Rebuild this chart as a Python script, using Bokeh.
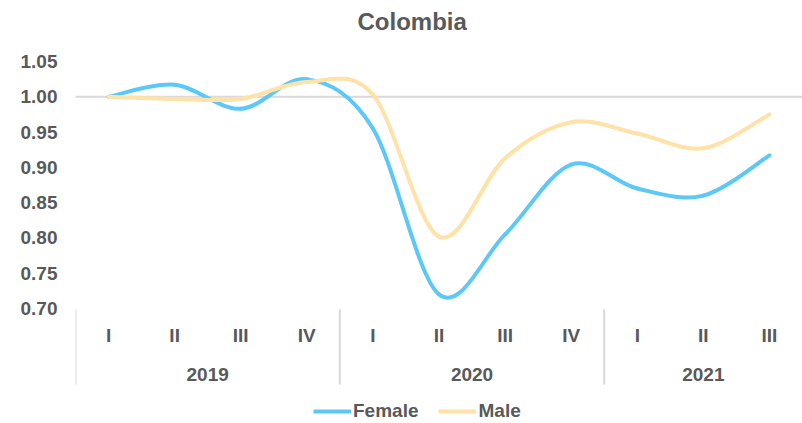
from bokeh.plotting import figure
from bokeh.models import (FactorRange, Range1d, ColumnDataSource, Span, Title,
                          NumeralTickFormatter, Legend, LegendItem)
from bokeh.core.properties import value
from bokeh.embed import file_html
from bokeh.resources import INLINE

years = ["2019", "2019", "2019", "2019", "2020", "2020", "2020", "2020", "2021", "2021", "2021"]
quarters = ["I", "II", "III", "IV", "I", "II", "III", "IV", "I", "II", "III"]
female = [1.000, 1.017, 0.983, 1.025, 0.955, 0.720, 0.805, 0.904, 0.870, 0.860, 0.917]
male = [1.000, 0.997, 0.997, 1.021, 1.003, 0.802, 0.913, 0.964, 0.948, 0.927, 0.975]
y_ticks = [0.70, 0.75, 0.80, 0.85, 0.90, 0.95, 1.00, 1.05]

BLUE = "#5CC8F8"
TAN = "#FFE2A8"
TXT = "#595959"
SEP = "#D9D9D9"
FONT = "Liberation Sans"

W, H = 802, 423
LEFT, TOP = 75, 61
PLOT_H = 247                      # pixels between 0.70 and 1.05
PX = (y_ticks[-1] - y_ticks[0]) / PLOT_H   # data units per pixel
y_bottom = y_ticks[-1] - (H - TOP) * PX   # frame extends down to hold category labels + legend

factors = list(zip(years, quarters))
n = len(factors)
xr = FactorRange(*factors, group_padding=0, factor_padding=0, range_padding=0)

p = figure(x_range=xr, y_range=Range1d(y_bottom, y_ticks[-1]),
           width=W, height=H, output_backend="svg", toolbar_location=None,
           title_location=None, x_axis_location=None,
           min_border_left=LEFT, min_border_right=0,
           min_border_top=TOP, min_border_bottom=0)
p.outline_line_color = None
p.xgrid.visible = False
p.ygrid.visible = False

# spacer (nearest the frame) then the real title above it
p.add_layout(Title(text=" ", text_font=FONT, text_font_size="10px", standoff=14), "above")
p.add_layout(Title(text="Colombia", align="left", offset=282, standoff=0,
                   text_font=FONT, text_font_size="24px", text_font_style="bold",
                   text_color=TXT), "above")

# horizontal axis line crossing at 1.00
p.add_layout(Span(location=1.0, dimension="width", line_color=SEP,
                  line_width=2, level="underlay"))


def smooth_source(vals):
    """Excel-like smoothed line: Catmull-Rom bezier segments between points,
    control points expressed as categorical offsets."""
    d = dict(x0=[], y0=[], x1=[], y1=[], cx0=[], cy0=[], cx1=[], cy1=[])
    m = len(vals)
    for i in range(m - 1):
        ip = i - 1 if i > 0 else i
        inn = i + 2 if i + 2 < m else i + 1
        f0 = factors[i]
        f1 = factors[i + 1]
        d["x0"].append([f0[0], f0[1], 0.0]); d["y0"].append(vals[i])
        d["x1"].append([f1[0], f1[1], 0.0]); d["y1"].append(vals[i + 1])
        d["cx0"].append([f0[0], f0[1], ((i + 1) - ip) / 6])
        d["cy0"].append(vals[i] + (vals[i + 1] - vals[ip]) / 6)
        d["cx1"].append([f1[0], f1[1], -(inn - i) / 6])
        d["cy1"].append(vals[i + 1] - (vals[inn] - vals[i]) / 6)
    return ColumnDataSource(d)


for vals, col in ((female, BLUE), (male, TAN)):
    p.bezier(x0="x0", y0="y0", x1="x1", y1="y1", cx0="cx0", cy0="cy0",
             cx1="cx1", cy1="cy1", source=smooth_source(vals),
             line_color=col, line_width=4, line_cap="round")

# ---- category axis (two levels) drawn below the 0.70 line ----
y_base = y_ticks[0]
sub_src = ColumnDataSource(dict(x=[[y, q, 0.0] for y, q in factors],
                                y=[y_base - 27 * PX] * n, t=quarters))
p.text(x="x", y="y", text="t", source=sub_src, text_font=value(FONT),
       text_font_size="19px", text_font_style="bold", text_color=TXT,
       text_align="center", text_baseline="middle")

groups = []
for yr in years:
    if yr not in groups:
        groups.append(yr)
gx, gy, sep_x = [], [], [[factors[0][0], factors[0][1], -0.5]]
for g in groups:
    idx = [i for i, yr in enumerate(years) if yr == g]
    mid = (len(idx) - 1) / 2
    base = int(mid)
    f = factors[idx[base]]
    gx.append([f[0], f[1], mid - base])
    gy.append(y_base - 66 * PX)
    last = factors[idx[-1]]
    if idx[-1] < n - 1:
        sep_x.append([last[0], last[1], 0.5])
grp_src = ColumnDataSource(dict(x=gx, y=gy, t=groups))
p.text(x="x", y="y", text="t", source=grp_src, text_font=value(FONT),
       text_font_size="19px", text_font_style="bold", text_color=TXT,
       text_align="center", text_baseline="middle")

sep_src = ColumnDataSource(dict(x0=sep_x, x1=sep_x,
                                y0=[y_base - 1 * PX] * len(sep_x),
                                y1=[y_base - 76 * PX] * len(sep_x)))
p.segment(x0="x0", y0="y0", x1="x1", y1="y1", source=sep_src,
          line_color=SEP, line_width=2)

# legend entries (renderers with a single undrawn point so the legend glyph shows)
nan = float("nan")
r_f = p.line(x=[factors[0], factors[0]], y=[nan, nan], line_color=BLUE, line_width=4)
r_m = p.line(x=[factors[0], factors[0]], y=[nan, nan], line_color=TAN, line_width=4)

# y axis
ya = p.yaxis[0]
ya.ticker = y_ticks
ya.formatter = NumeralTickFormatter(format="0.00")
ya.axis_line_color = None
ya.major_tick_line_color = None
ya.minor_tick_line_color = None
ya.major_label_text_font = FONT
ya.major_label_text_font_size = "19px"
ya.major_label_text_font_style = "bold"
ya.major_label_text_color = TXT
ya.major_label_standoff = 12

legend = Legend(items=[LegendItem(label="Female", renderers=[r_f]),
                       LegendItem(label="Male", renderers=[r_m])],
                orientation="horizontal", location=(238, 1))
legend.border_line_color = None
legend.background_fill_alpha = 0
legend.label_text_font = FONT
legend.label_text_font_size = "19px"
legend.label_text_font_style = "bold"
legend.label_text_color = TXT
legend.glyph_width = 38
legend.glyph_height = 16
legend.label_standoff = 2
legend.spacing = 20
legend.padding = 0
legend.margin = 0
p.add_layout(legend)

open("out.html", "w").write(file_html(p, INLINE))
